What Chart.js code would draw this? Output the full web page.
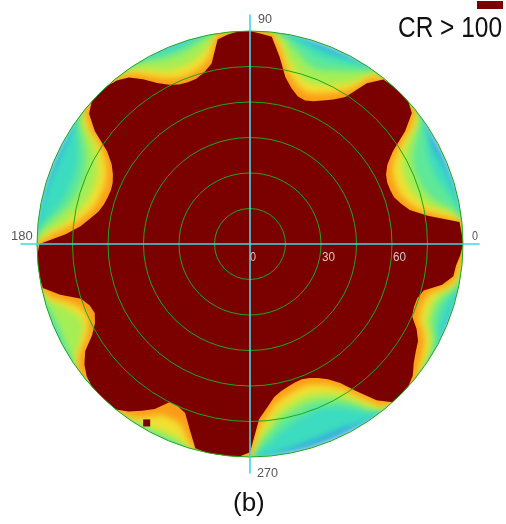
<!DOCTYPE html>
<html>
<head>
<meta charset="utf-8">
<title>CR polar map</title>
<script src="https://cdn.jsdelivr.net/npm/chart.js@4"></script>
<style>
  html, body { margin: 0; padding: 0; background: #fff; }
  canvas { display: block; }
</style>
</head>
<body>
<div style="width:506px;height:524px"><canvas id="polarMap"></canvas></div>
<script>
// Azimuth runs 0, 3, 6 ... 357 degrees, one row below is 30 degrees
const azimuths = Array.from({ length: 120 }, (_, i) => i * 3);

// Radius (tilt, degrees) where each colour band ends
const tealEdge = [
  90,90,90,90,89.8,89.5,89,88.5,88,87.5,
  88,89.5,89.8,90,90,90,90,90,90,89.8,
  89.5,88.8,88.3,88,88.3,89,89.5,90,90,90,
  90,90,90,90,90,90,90,89.8,89.8,89.8,
  90,90,90,90,90,90,90,90,89.9,89.8,
  89,88.7,88.5,88.5,89,89.3,89.6,89.8,90,90,
  90,90,90,90,90,90,90,90,90,90,
  90,90,90,90,90,90,90,90,90,90,
  90,90,90,90,90,90,90,90,90,90,
  90,89.8,89.5,88.5,88,87.5,87,87,87,87,
  88.5,89.5,90,90,90,90,90,90,90,90,
  89.8,89.8,89.5,89.5,89.8,90,90,90,90,90
];
const greenEdge = [
  90,90,90,89.5,88,86,84.5,83.5,83.5,84,
  86,88,89.5,90,90,90,90,90,90,89,
  87.5,86,85,84.5,85,86.5,88,89.5,90,90,
  90,90,90,90,89.5,89,88.5,88,88.5,89,
  89.5,90,90,90,90,90,90,90,89.5,87.5,
  84,81.5,80,79.5,80,80.5,82,84.5,87.5,89.5,
  90,90,90,90,90,90,89.5,89.5,89.5,89.5,
  89.5,89.5,90,90,90,90,90,90,90,90,
  90,90,90,90,90,90,90,90,90,90,
  90,87,84,80.5,78.5,77,76,75.5,76,77.5,
  80,84,88,90,90,90,90,90,90,90,
  89.5,89,87,86,86,87.5,89.5,90,90,90
];
const limeEdge = [
  90,90,90,88,82,78.5,76.5,76,76,77,
  79.5,84,89,90,90,90,90,90,89.8,87,
  84,82,80,79,79.5,82,85,89,90,90,
  90,90,90,90,89,87.5,86,85.5,86,87,
  89,90,90,90,90,90,90,90,89,84.5,
  80,77.5,76,75.5,75.8,76.5,78,81,85,89.5,
  90,90,90,90,90,90,89,88.5,88,88.5,
  89,89.5,90,90,90,90,90,90,90,90,
  89.5,89.5,89.5,89.5,89.5,90,90,90,90,90,
  90,84,80,76,74,72.8,72,71.8,72.5,74,
  76.5,80.5,86,90,90,90,90,90,90,89.5,
  89,87.5,84,83,83,85,88.5,90,90,90
];
const yellowEdge = [
  90,90,90,85,77,73.5,71.5,71,71,72,
  74.5,79,87,90,90,90,90,90,89.5,82,
  78,75.5,73.5,72.5,73,75.5,79,86,90,90,
  90,90,90,90,85,82,80.5,80,80.5,82,
  85,88,89.5,90,90,90,90,90,87,79,
  74.5,72,70.5,70,70.3,71,72.5,75.5,79.5,86,
  90,90,90,90,90,89,84,80,78,79,
  83,88,90,90,90,90,90,90,89.5,89,
  88,87.5,87,87,89,90,90,90,90,90,
  90,81,76.5,72.5,70.5,69.3,68.5,68.2,69,70.5,
  73,77,84,89.5,90,90,90,90,89.5,88.5,
  87.5,85,81,80.2,80.3,82,87,89.5,90,90
];
const orangeEdge = [
  90,90,90,80,72,69,67,66.5,66.5,67.5,
  70,75,84,90,90,90,90,90,87,78,
  74,71.5,69.5,68.5,69,71.5,75,83,90,90,
  90,90,90,89.5,81,78,76.5,76,76.5,78.5,
  81.5,85.5,88.5,90,90,90,90,89.5,84,75,
  70.5,68,66.5,66,66.3,67,68.5,71.5,75.5,83,
  90,90,90,90,90,87,80,76,75,76.5,
  80,86,89.5,90,90,90,90,90,89,87.5,
  84,81,81,81.5,86,90,90,90,90,90,
  90,77,72.5,68.5,66.5,65.3,64.5,64.2,65,66.5,
  69,73,80,88,90,90,90,90,88,86.5,
  85,82,78,77.2,77.3,79,85.5,88.5,89,90
];
// CR > 100 region
const redEdge = [
  90,89.5,89,76,69,66,64,63.5,63.5,64.5,
  67,72,81,88,90,90,90,89.5,84,74,
  70.5,68,66,65,65.5,68,72,80,88,89,
  90,90,89,87.5,78,75,73.4,73.2,73.8,75.5,
  78.5,83,87,89,90,90,90,87.5,81,72,
  67.5,65,63.5,63,63.3,64,65.5,68.5,72,78,
  89,90,90,90,89.5,83,75,72.5,71.8,73.5,
  77,83,86.5,88.8,90,90,90,90,87.5,84,
  80.5,75,75,76.5,82.4,89.3,90,90,90,90,
  88,74,69.5,65.5,63.5,62.3,61.5,61.2,62,63.5,
  66,70,77,85,90,90,90,88.5,85.5,83.5,
  82,79,75,74.2,74.3,76,83,87,87.5,89
];
// Small red fleck cut off from the main region, lower left
const fleckAzimuth = 240;
const fleckTilt = 87.3;

// Labels drawn on the map
const azimuthLabels = ["0", "90", "180", "270"];
const tiltTicks = [0, 30, 60];
const legendLabel = "CR > 100";
const captionLabel = "(b)";

// Radar goes clockwise, the map counter-clockwise
function toClockwise(values) {
  return values.map((_, i) => values[(values.length - i) % values.length]);
}

function band(edge, color) {
  return {
    data: toClockwise(edge),
    backgroundColor: color,
    borderWidth: 0,
    fill: true,
    pointRadius: 0,
    tension: 0,
  };
}

// Soften the colour bands so they read like the original shading.
// Datasets paint from last to first, the filter comes off before the
// red region and the fleck so those stay sharp.
const softBands = {
  id: "softBands",
  beforeDatasetsDraw(chart) {
    const ctx = chart.ctx;
    const scale = chart.scales.r;
    ctx.save();
    ctx.beginPath();
    ctx.arc(scale.xCenter, scale.yCenter, scale.drawingArea, 0, Math.PI * 2);
    ctx.clip();
    ctx.filter = "blur(3px)";
  },
  afterDatasetDraw(chart, args) {
    if (args.index === 2) chart.ctx.restore();
  },
};

// Cross lines, text and legend swatch go on top of the bands
const mapOverlay = {
  id: "mapOverlay",
  afterDraw(chart) {
    const ctx = chart.ctx;
    const scale = chart.scales.r;
    const at = (azimuth, tilt) =>
      scale.getPointPositionForValue(((360 - azimuth) % 360) / 3, tilt);

    ctx.save();
    ctx.strokeStyle = "#3fd6e6";
    ctx.lineWidth = 1.6;
    [[0, 180], [90, 270]].forEach(([a, b]) => {
      const p = at(a, 97);
      const q = at(b, 97);
      ctx.beginPath();
      ctx.moveTo(p.x, p.y);
      ctx.lineTo(q.x, q.y);
      ctx.stroke();
    });

    ctx.textBaseline = "middle";
    ctx.textAlign = "left";
    ctx.font = "13px 'Liberation Sans'";

    // Tilt ticks sit just under the 0 degree line
    ctx.fillStyle = "#d8c8c8";
    tiltTicks.forEach((tick) => {
      const p = at(0, tick);
      ctx.fillText(String(tick), p.x + (tick === 0 ? 0 : 1), p.y + 13, tick === 0 ? 6 : 13);
    });

    // Azimuth labels outside the rim
    ctx.fillStyle = "#555";
    const centre = at(0, 0);
    ctx.fillText(azimuthLabels[0], centre.x + 222, centre.y - 8, 6);
    ctx.fillText(azimuthLabels[1], centre.x + 8, centre.y - 225, 14);
    ctx.fillText(azimuthLabels[2], centre.x - 239, centre.y - 8, 22);
    ctx.fillText(azimuthLabels[3], centre.x + 7, centre.y + 229, 21);

    // Legend and caption
    ctx.fillStyle = "#7b0000";
    ctx.fillRect(477, 1, 26, 8);
    ctx.fillStyle = "#111";
    ctx.font = "29px 'Liberation Sans'";
    ctx.fillText(legendLabel, 398, 29, 104);
    ctx.font = "26px 'Liberation Sans'";
    ctx.fillText(captionLabel, 233, 504, 36);
    ctx.restore();
  },
};

new Chart(document.getElementById("polarMap").getContext("2d"), {
  type: "radar",
  data: {
    labels: toClockwise(azimuths),
    // Chart.js paints the first dataset last, so the red parts go first
    datasets: [
      {
        data: toClockwise(azimuths.map((a) => (a === fleckAzimuth ? fleckTilt : null))),
        showLine: false,
        fill: false,
        pointStyle: "rect",
        pointRadius: 5,
        pointBorderWidth: 0,
        pointBackgroundColor: "#7b0000",
      },
      band(redEdge, "#7b0000"),
      band(orangeEdge, "#fb9c18"),
      band(yellowEdge, "#f2e030"),
      band(limeEdge, "#a6ee55"),
      band(greenEdge, "#5fe898"),
      band(tealEdge, "#3cdcc0"),
      band(azimuths.map(() => 90), "#2fa5dc"),
    ],
  },
  options: {
    responsive: true,
    maintainAspectRatio: false,
    animation: false,
    layout: { padding: { left: 37, right: 43, top: 31, bottom: 67 } },
    plugins: { legend: { display: false }, tooltip: { enabled: false } },
    scales: {
      r: {
        min: 0,
        max: 90,
        startAngle: 90,
        ticks: { stepSize: 15, display: false },
        grid: { circular: true, color: "#1fa81a", lineWidth: 1, z: 1 },
        angleLines: { display: false },
        pointLabels: { display: false },
      },
    },
  },
  plugins: [softBands, mapOverlay],
});
</script>
</body>
</html>
